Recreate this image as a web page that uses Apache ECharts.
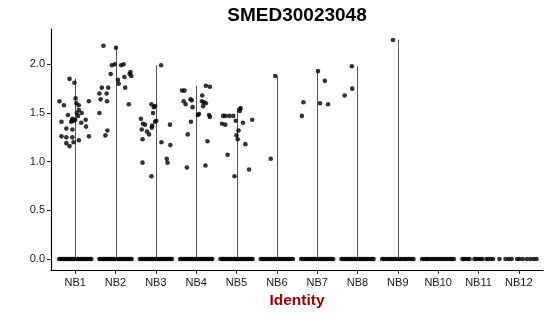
<!DOCTYPE html>
<html>
<head>
<meta charset="utf-8">
<script src="https://cdn.jsdelivr.net/npm/echarts@6/dist/echarts.min.js"></script>
<style>html,body{margin:0;padding:0;background:#fff}#c{width:550px;height:316px}</style>
</head>
<body>
<div id="c"></div>
<script>
const chartTitle = 'SMED30023048';
const xTitle = 'Identity';
const categories = ['NB1','NB2','NB3','NB4','NB5','NB6','NB7','NB8','NB9','NB10','NB11','NB12'];
const yTicks = [0, 0.5, 1, 1.5, 2];

// non-zero expression points [jittered x, value]
const nb1Points = [[0.86,1.85],[0.98,1.81],[0.61,1.62],[0.72,1.58],[1.01,1.65],[1.03,1.60],[1.09,1.58],[1.34,1.62],[1.09,1.53],[1.16,1.50],[1.07,1.47],[0.82,1.48],[0.66,1.41],[0.92,1.42],[0.96,1.42],[1.00,1.43],[0.93,1.44],[1.15,1.40],[1.26,1.43],[1.27,1.36],[0.78,1.34],[0.93,1.33],[0.66,1.26],[0.78,1.25],[0.93,1.25],[1.09,1.22],[1.34,1.26],[0.78,1.19],[0.86,1.16],[0.96,1.20],[1.04,1.50],[0.90,1.41]];
const nb2Points = [[1.70,2.19],[2.01,2.17],[1.60,1.70],[1.66,1.76],[1.78,1.70],[1.82,1.76],[1.63,1.64],[1.79,1.62],[1.88,1.90],[1.91,1.99],[1.98,2.00],[2.06,1.84],[2.08,1.80],[2.14,1.99],[2.20,2.00],[2.22,1.87],[2.24,1.76],[2.35,1.90],[2.37,1.92],[2.39,1.88],[2.33,1.59],[1.60,1.50],[1.80,1.32],[1.75,1.27]];
const nb3Points = [[3.13,1.99],[2.89,1.59],[2.95,1.56],[2.98,1.57],[2.93,1.50],[2.63,1.44],[2.68,1.39],[2.73,1.38],[2.98,1.41],[3.01,1.42],[2.91,1.37],[2.90,1.35],[2.65,1.33],[2.78,1.31],[2.83,1.28],[3.35,1.38],[2.67,1.23],[3.14,1.20],[3.36,1.17],[2.67,0.99],[3.27,1.03],[3.29,0.99],[2.89,0.85]];
const nb4Points = [[3.65,1.73],[3.71,1.73],[4.24,1.78],[4.34,1.77],[3.69,1.62],[3.74,1.59],[3.86,1.64],[3.89,1.63],[3.91,1.56],[4.15,1.68],[4.14,1.62],[4.19,1.61],[4.24,1.60],[4.17,1.57],[4.04,1.48],[4.07,1.49],[4.32,1.48],[4.34,1.46],[3.87,1.41],[4.28,1.21],[3.79,1.28],[3.77,0.94],[4.23,0.96]];
const nb5Points = [[5.10,1.55],[5.09,1.54],[5.08,1.52],[4.67,1.47],[4.72,1.47],[4.82,1.47],[4.92,1.47],[4.64,1.39],[4.72,1.38],[4.98,1.42],[5.16,1.40],[5.39,1.43],[5.05,1.32],[5.00,1.27],[5.03,1.23],[5.22,1.18],[4.78,1.07],[5.31,0.92],[4.95,0.85]];
const nb6Points = [[5.96,1.88],[5.85,1.03]];
const nb7Points = [[7.02,1.93],[6.66,1.61],[6.62,1.47],[7.07,1.60],[7.19,1.83],[7.27,1.59]];
const nb8Points = [[7.86,1.98],[7.87,1.75],[7.68,1.68]];
const nb9Points = [[8.88,2.25]];
const nb10Points = [];
const nb11Points = [];
const nb12Points = [];

// jittered x positions of cells with zero expression
const nb1Zero = [0.60,0.64,0.67,0.71,0.74,0.78,0.81,0.85,0.88,0.92,0.95,0.99,1.02,1.06,1.09,1.13,1.16,1.20,1.23,1.27,1.30,1.34,1.37,1.40];
const nb2Zero = [1.60,1.63,1.67,1.70,1.74,1.77,1.81,1.84,1.88,1.91,1.95,1.98,2.02,2.05,2.09,2.12,2.16,2.19,2.23,2.26,2.30,2.33,2.37,2.40];
const nb3Zero = [2.60,2.64,2.67,2.71,2.74,2.78,2.81,2.85,2.88,2.92,2.95,2.99,3.02,3.06,3.09,3.13,3.16,3.20,3.23,3.27,3.30,3.34,3.37,3.40];
const nb4Zero = [3.60,3.63,3.67,3.70,3.74,3.77,3.81,3.84,3.88,3.91,3.95,3.98,4.02,4.05,4.09,4.12,4.16,4.19,4.23,4.26,4.30,4.33,4.37,4.40];
const nb5Zero = [4.60,4.64,4.67,4.71,4.74,4.78,4.81,4.85,4.88,4.92,4.95,4.99,5.02,5.06,5.09,5.13,5.16,5.20,5.23,5.27,5.30,5.34,5.37,5.40];
const nb6Zero = [5.60,5.64,5.68,5.72,5.76,5.80,5.84,5.88,5.92,5.96,6.00,6.04,6.08,6.12,6.16,6.20,6.24,6.28,6.32,6.36,6.40];
const nb7Zero = [6.60,6.64,6.68,6.72,6.76,6.80,6.84,6.88,6.92,6.96,7.00,7.04,7.08,7.12,7.16,7.20,7.24,7.28,7.32,7.36,7.40];
const nb8Zero = [7.60,7.64,7.68,7.72,7.76,7.80,7.84,7.88,7.92,7.96,8.00,8.04,8.08,8.12,8.16,8.20,8.24,8.28,8.32,8.36,8.40];
const nb9Zero = [8.61,8.65,8.70,8.75,8.79,8.84,8.88,8.93,8.98,9.03,9.07,9.12,9.17,9.21,9.26,9.30,9.35,9.39];
const nb10Zero = [9.60,9.65,9.70,9.74,9.79,9.84,9.89,9.94,9.99,10.04,10.09,10.14,10.19,10.24,10.29,10.34,10.39];
const nb11Zero = [10.60,10.64,10.68,10.73,10.78,10.90,10.95,11.00,11.05,11.10,11.20,11.25,11.30,11.36];
const nb12Zero = [11.52,11.67,11.75,11.82,11.96,12.02,12.10,12.20,12.29,12.37,12.44];

const groupPoints = [nb1Points,nb2Points,nb3Points,nb4Points,nb5Points,nb6Points,nb7Points,nb8Points,nb9Points,nb10Points,nb11Points,nb12Points];
const groupZeros = [nb1Zero,nb2Zero,nb3Zero,nb4Zero,nb5Zero,nb6Zero,nb7Zero,nb8Zero,nb9Zero,nb10Zero,nb11Zero,nb12Zero];

const allPoints = [];
groupZeros.forEach(z => z.forEach(x => allPoints.push([x, 0])));
groupPoints.forEach(g => g.forEach(p => allPoints.push(p)));

// violin (collapsed to a line) from 0 to each group's maximum
const violinData = [];
groupPoints.forEach((g, i) => {
  if (g.length) violinData.push([i + 1, Math.max(...g.map(p => p[1]))]);
});

const yMax = 2.25, pad = 0.05 * yMax;
const chart = echarts.init(document.getElementById('c'), null, {renderer: 'canvas'});
const fam = 'Liberation Sans, Arial, Helvetica, sans-serif';
chart.setOption({
  animation: false,
  backgroundColor: '#ffffff',
  graphic: [{
    type: 'text', x: 297, y: 16,
    style: {text: chartTitle, fontFamily: fam, fontWeight: 'bold', fontSize: 19, fill: '#000', align: 'center', verticalAlign: 'middle'}
  }],
  grid: {left: 51, right: 7, top: 29, bottom: 46, containLabel: false},
  xAxis: {
    type: 'value', min: 0.4, max: 12.6,
    name: xTitle, nameLocation: 'middle', nameGap: 23,
    nameTextStyle: {fontFamily: fam, fontWeight: 'bold', fontSize: 15.5, color: '#a00000'},
    axisLine: {show: true, onZero: false, lineStyle: {color: '#000', width: 1.2}},
    axisTick: {show: true, length: 4, lineStyle: {color: '#333'}, customValues: categories.map((c, i) => i + 1)},
    axisLabel: {show: true, margin: 7, fontFamily: fam, fontSize: 11, color: '#1a1a1a',
      customValues: categories.map((c, i) => i + 1),
      formatter: v => categories[Math.round(v) - 1] || ''},
    splitLine: {show: false}
  },
  yAxis: {
    type: 'value', min: -pad, max: yMax + pad,
    axisLine: {show: true, onZero: false, lineStyle: {color: '#000', width: 1.2}},
    axisTick: {show: true, length: 4, lineStyle: {color: '#333'}, customValues: yTicks},
    axisLabel: {show: true, margin: 6, fontFamily: fam, fontSize: 11, color: '#1a1a1a',
      customValues: yTicks, formatter: v => v.toFixed(1)},
    splitLine: {show: false}
  },
  series: [{
    type: 'custom',
    data: violinData,
    renderItem: (params, api) => {
      const x = api.value(0);
      const p0 = api.coord([x, 0]);
      const p1 = api.coord([x, api.value(1)]);
      const px = Math.round(p0[0]) + 0.5;
      return {type: 'line', shape: {x1: px, y1: p0[1], x2: px, y2: p1[1]}, style: {stroke: '#555555', lineWidth: 1}};
    },
    z: 1
  }, {
    type: 'scatter',
    data: allPoints,
    symbol: 'circle',
    symbolSize: 4.6,
    itemStyle: {color: '#000'},
    z: 2
  }]
});
</script>
</body>
</html>
